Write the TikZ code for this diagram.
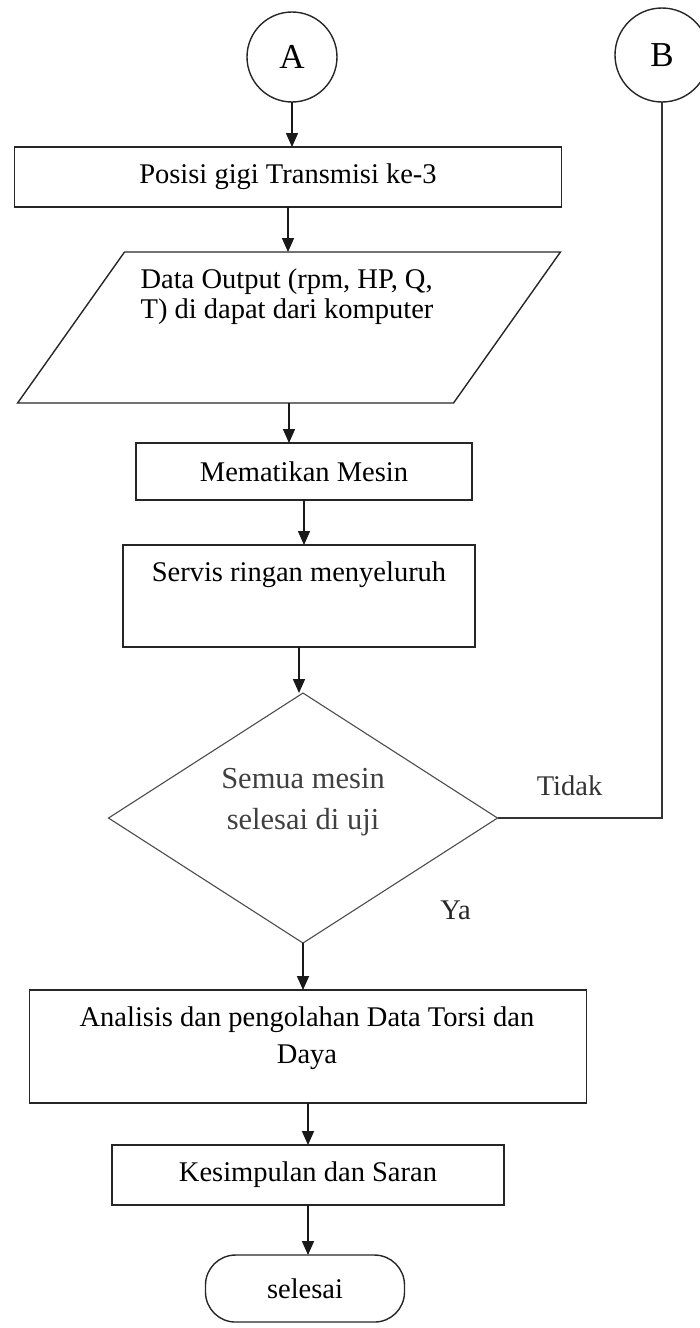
\documentclass[tikz,border=0pt]{standalone}
\usepackage{fontspec}
\setmainfont{Liberation Serif}
\usepackage{tikz}
\usetikzlibrary{positioning, shapes.geometric, arrows.meta}
\tikzstyle{io} = [trapezium, trapezium left angle=54.7, trapezium right angle=125.3, draw=black!85, line width=1.4pt, inner sep=0pt, outer sep=0pt]
\tikzstyle{decision} = [diamond, draw=black!70, line width=1.1pt, inner sep=2pt, outer sep=0pt]
\tikzstyle{arrow} = [line width=1.5pt, draw=black!90, -{Triangle[length=14pt,width=12pt]}]

\begin{document}
\begin{tikzpicture}[
font=\fontsize{28.5}{31}\selectfont,
squarednode/.style={rectangle, draw=black!85, line width=1.4pt, inner sep=0pt, outer sep=0pt},
roundnode/.style={circle, draw=black!85, line width=1.4pt, inner sep=0pt, outer sep=0pt, font=\fontsize{35}{40}\selectfont},
terminal/.style={rectangle, rounded corners=30pt, draw=black!85, line width=1.4pt, inner sep=0pt, outer sep=0pt},
txt/.style={inner sep=0pt, outer sep=0pt}
]
\useasboundingbox (-292pt,57pt) rectangle (407pt,-1271pt);
\node[roundnode, minimum size=90pt] (A) {A};
\node[roundnode, minimum size=94pt] (B) [right=278pt of A, yshift=2pt] {B};
\node[squarednode, minimum width=547pt, minimum height=60pt] (pos) [below=45pt of A, xshift=-4pt] {Posisi gigi Transmisi ke-3};
\node[io, text width=329pt, text height=151pt, text depth=0pt] (data) [below=45pt of pos, xshift=1pt] {};
\node[txt, align=left, font=\fontsize{28.5}{30}\selectfont] (datatxt) at ([xshift=-2pt, yshift=30.5pt]data.center) {Data Output (rpm, HP, Q,\\T) di dapat dari komputer};
\node[squarednode, minimum width=336pt, minimum height=57pt] (matikan) [below=40pt of data, xshift=15pt] {Mematikan Mesin};
\node[squarednode, minimum width=352pt, minimum height=102pt] (servis) [below=45pt of matikan, xshift=-5pt] {};
\node[txt] (servistxt) at ([yshift=21pt]servis.center) {Servis ringan menyeluruh};
\node[decision, minimum width=389pt, minimum height=250pt] (cek) [below=46pt of servis, xshift=4pt] {};
\node[txt, align=center, text=black!75, font=\fontsize{30.5}{41}\selectfont] (cektxt) at ([yshift=15.5pt]cek.center) {Semua mesin\\selesai di uji};
\node[squarednode, minimum width=557pt, minimum height=113pt] (analisis) [below=47pt of cek, xshift=5pt] {};
\node[txt, align=center, font=\fontsize{28.5}{37}\selectfont] (analisistxt) at ([xshift=-1pt, yshift=8pt]analisis.center) {Analisis dan pengolahan Data Torsi dan\\Daya};
\node[squarednode, minimum width=392pt, minimum height=60pt] (simpul) [below=42pt of analisis] {Kesimpulan dan Saran};
\node[terminal, minimum width=199pt, minimum height=67pt] (selesai) [below=50pt of simpul, xshift=-3pt] {selesai};
\node[txt, text=black!80] (tidak) at ([xshift=72pt, yshift=32pt]cek.east) {Tidak};
\node[txt, text=black!85] (ya) at ([xshift=-42pt, yshift=-92pt]cek.east) {Ya};

\draw[arrow] (A) -- (A |- pos.north);
\draw[arrow] (pos.south) -- (pos.south |- data.north);
\draw[arrow] (data.south) -- (data.south |- matikan.north);
\draw[arrow] (matikan.south) -- (matikan.south |- servis.north);
\draw[arrow] (servis.south) -- (servis.south |- cek.north);
\draw[arrow] (cek.south) -- (cek.south |- analisis.north);
\draw[arrow] (analisis.south) -- (analisis.south |- simpul.north);
\draw[arrow] (simpul.south) -- (simpul.south |- selesai.north);
\draw[line width=1.1pt, black!80] (cek.east) -| (B.south);
\end{tikzpicture}
\end{document}
